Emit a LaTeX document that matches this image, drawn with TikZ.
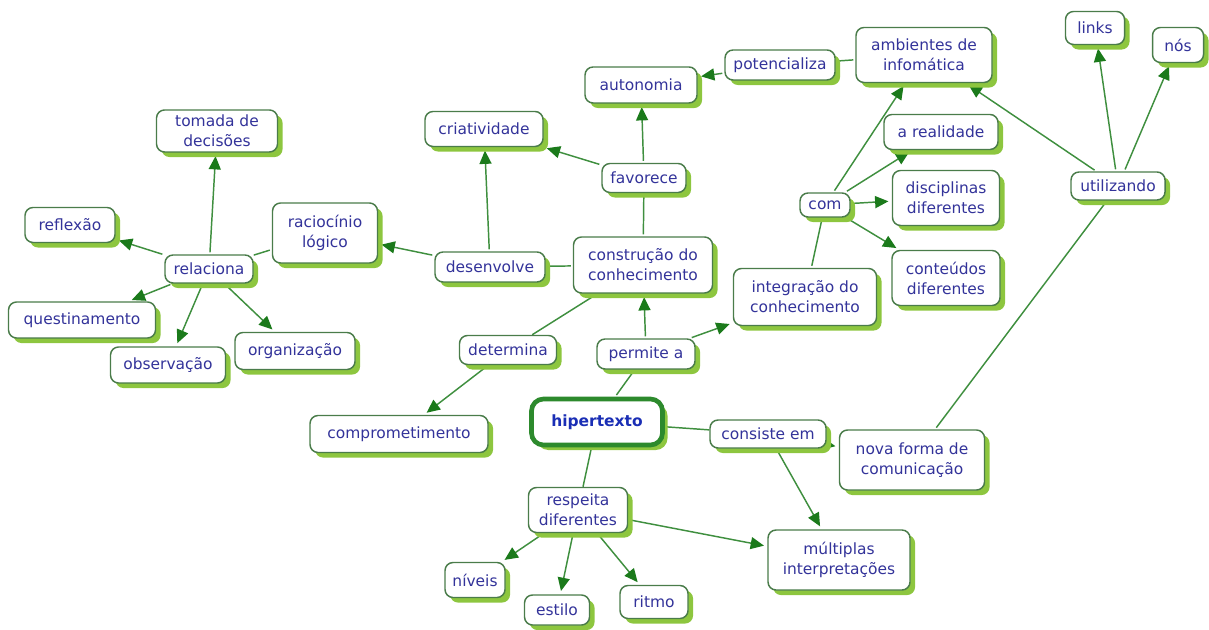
\documentclass[tikz,border=0pt]{standalone}
\usepackage{fontspec}
\setmainfont{DejaVu Sans}
\usetikzlibrary{shadows,arrows.meta,backgrounds}
\definecolor{bordergreen}{HTML}{4A7C4A}
\definecolor{shadowgreen}{HTML}{8DC63F}
\definecolor{linegreen}{HTML}{3F8F3F}
\definecolor{arrowgreen}{HTML}{1B7A1B}
\definecolor{txtblue}{HTML}{33339A}
\definecolor{hipblue}{HTML}{1A2EB5}
\definecolor{hipgreen}{HTML}{2D8A2D}
\tikzset{
  cbox/.style={draw=bordergreen, line width=1.1pt, fill=white, rounded corners=6pt,
    text=txtblue, font=\fontsize{11.6}{15}\selectfont, align=center, inner sep=2pt,
    drop shadow={shadow xshift=3.8pt, shadow yshift=-3.8pt, fill=shadowgreen, opacity=1}},
  sz/.style 2 args={minimum width=#1*0.75pt, minimum height=#2*0.75pt},
  ln/.style={draw=linegreen, line width=1.1pt, shorten <=1.5pt},
  arr/.style={ln, -{Triangle[length=10pt,width=9pt,color=arrowgreen,fill=arrowgreen]}, shorten >=2.5pt},
}
\begin{document}
\begin{tikzpicture}[x=0.75pt,y=-0.75pt]
\useasboundingbox (0,0) rectangle (1209,630);
% left cluster
\node[cbox, sz={121}{42}] (tom) at (217,131) {tomada de\\decisões};
\node[cbox, sz={90}{35}] (ref) at (70,225) {reflexão};
\node[cbox, sz={88}{28}] (rel) at (209,269) {relaciona};
\node[cbox, sz={105}{60}] (rac) at (325,233) {raciocínio\\lógico};
\node[cbox, sz={147}{36}] (que) at (82,320) {questinamento};
\node[cbox, sz={115}{36}] (obs) at (168,365) {observação};
\node[cbox, sz={120}{37}] (org) at (295,351) {organização};
% middle
\node[cbox, sz={118}{35}] (cri) at (484,129) {criatividade};
\node[cbox, sz={112}{36}] (aut) at (641,85) {autonomia};
\node[cbox, sz={84}{29}] (fav) at (644,178) {favorece};
\node[cbox, sz={110}{30}] (des) at (490,267) {desenvolve};
\node[cbox, sz={139}{56}] (con) at (643,265) {construção do\\conhecimento};
\node[cbox, sz={110}{30}] (pot) at (780,65) {potencializa};
\node[cbox, sz={136}{55}] (amb) at (924,55) {ambientes de\\infomática};
% right
\node[cbox, sz={59}{33}] (lin) at (1095,28) {links};
\node[cbox, sz={51}{35}] (nos) at (1178,45) {nós};
\node[cbox, sz={114}{35}] (rea) at (941,132) {a realidade};
\node[cbox, sz={107}{55}] (dis) at (946,198) {disciplinas\\diferentes};
\node[cbox, sz={50}{24}] (com) at (825,205) {com};
\node[cbox, sz={94}{28}] (uti) at (1118,186) {utilizando};
\node[cbox, sz={108}{55}] (cnt) at (946,278) {conteúdos\\diferentes};
\node[cbox, sz={143}{57}] (int) at (805,297) {integração do\\conhecimento};
% lower
\node[cbox, sz={97}{29}] (det) at (508,350) {determina};
\node[cbox, sz={98}{30}] (per) at (646,354) {permite a};
\node[cbox, sz={178}{37}] (cmp) at (399,434) {comprometimento};
\node[cbox, sz={131}{46}, draw=hipgreen, line width=3.5pt, rounded corners=9pt,
      text=hipblue, font=\fontsize{11.6}{15}\selectfont\bfseries] (hip) at (597,422) {hipertexto};
\node[cbox, sz={116}{28}] (cns) at (768,434) {consiste em};
\node[cbox, sz={145}{60}] (nov) at (912,460) {nova forma de\\comunicação};
\node[cbox, sz={99}{45}] (res) at (578,510) {respeita\\diferentes};
\node[cbox, sz={142}{60}] (mul) at (839,560) {múltiplas\\interpretações};
\node[cbox, sz={60}{35}] (niv) at (475,580) {níveis};
\node[cbox, sz={65}{30}] (est) at (557,610) {estilo};
\node[cbox, sz={68}{33}] (rit) at (654,602) {ritmo};
\begin{scope}[on background layer]
\draw[arr] (rel) -- (tom);
\draw[arr] (rel) -- (ref);
\draw[arr] (rel) -- (que);
\draw[arr] (rel) -- (obs);
\draw[arr] (rel) -- (org);
\draw[ln] (rac) -- (rel);
\draw[arr] (des) -- (rac);
\draw[arr] (des) -- (cri);
\draw[ln] (con) -- (des);
\draw[ln] (con) -- (fav);
\draw[arr] (fav) -- (cri);
\draw[arr] (fav) -- (aut);
\draw[arr] (pot) -- (aut);
\draw[ln] (amb) -- (pot);
\draw[arr] (com) -- (amb);
\draw[arr] (com) -- (rea);
\draw[arr] (com) -- (dis);
\draw[arr] (com) -- (cnt);
\draw[ln] (int) -- (com);
\draw[arr] (uti) -- (amb);
\draw[arr] (uti) -- (lin);
\draw[arr] (uti) -- (nos);
\draw[ln] (nov) -- (uti);
\draw[ln] (hip) -- (per);
\draw[arr] (per) -- (con);
\draw[arr] (per) -- (int);
\draw[ln] (con) -- (det);
\draw[arr] (det) -- (cmp);
\draw[ln] (hip) -- (cns);
\draw[arr] (cns) -- (nov);
\draw[arr] (cns) -- (mul);
\draw[ln] (hip) -- (res);
\draw[arr] (res) -- (mul);
\draw[arr] (res) -- (niv);
\draw[arr] (res) -- (est);
\draw[arr] (res) -- (rit);
\end{scope}
\end{tikzpicture}
\end{document}
